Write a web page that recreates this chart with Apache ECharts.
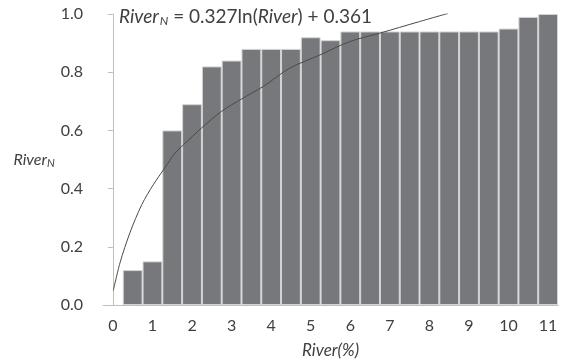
<!DOCTYPE html>
<html>
<head>
<meta charset="utf-8">
<script src="https://cdn.jsdelivr.net/npm/echarts@6/dist/echarts.min.js"></script>
<style>
    html, body {margin: 0; padding: 0; background: #fff;}
    #main {width: 568px; height: 364px;}
</style>
</head>
<body>
<div id="main"></div>
<script>
// bar positions (River %) and heights (RiverN)
const riverX = [0.5, 1.0, 1.5, 2.0, 2.5, 3.0, 3.5, 4.0, 4.5, 5.0, 5.5,
    6.0, 6.5, 7.0, 7.5, 8.0, 8.5, 9.0, 9.5, 10.0, 10.5, 11.0];
const riverN = [0.12, 0.15, 0.60, 0.69, 0.82, 0.84, 0.88, 0.88, 0.88, 0.92, 0.91,
    0.94, 0.94, 0.94, 0.94, 0.94, 0.94, 0.94, 0.94, 0.95, 0.99, 1.00];

// trend curve, points
const trendX = [0.01, 0.18, 0.43, 0.73, 1.02, 1.31, 1.57, 1.78, 2.24, 2.74, 3.29,
    3.80, 4.47, 5.23, 5.98, 6.74, 7.75, 8.47];
const trendY = [0.05, 0.145, 0.248, 0.345, 0.413, 0.471, 0.522, 0.55, 0.608, 0.665, 0.711,
    0.751, 0.814, 0.859, 0.905, 0.934, 0.974, 1.002];

const xTicks = [0, 1, 2, 3, 4, 5, 6, 7, 8, 9, 10, 11];

const textColor = '#404040';
const axisColor = '#bfbfbf';
const font = 'Lato';

const chart = echarts.init(document.getElementById('main'));

const option = {
    animation: false,
    textStyle: {fontFamily: font},
    title: {
        left: 114,
        top: 1,
        text: '{i|River}{s|N}{t| = 0.327ln(}{i|River}{t|) + 0.361}',
        textStyle: {
            fontWeight: 'normal',
            rich: {
                i: {fontFamily: font, fontStyle: 'italic', fontWeight: 'normal', fontSize: 19, color: textColor, lineHeight: 22},
                t: {fontFamily: font, fontWeight: 'normal', fontSize: 19, color: textColor, lineHeight: 22},
                s: {fontFamily: font, fontStyle: 'italic', fontWeight: 'normal', fontSize: 12, color: textColor, padding: [9, 0, 0, 1]}
            }
        }
    },
    grid: {
        left: 103,
        right: 10,
        top: 14,
        bottom: 58
    },
    xAxis: {
        type: 'value',
        min: -0.25,
        max: 11.25,
        name: '{i|River(%)}',
        nameLocation: 'middle',
        nameGap: 37,
        nameTextStyle: {
            rich: {
                i: {fontFamily: font, fontStyle: 'italic', fontSize: 17, color: textColor}
            }
        },
        axisLine: {lineStyle: {color: axisColor}},
        axisTick: {show: false},
        splitLine: {show: false},
        axisLabel: {
            customValues: xTicks,
            fontSize: 16,
            color: textColor,
            margin: 13
        }
    },
    yAxis: {
        type: 'value',
        min: 0,
        max: 1,
        interval: 0.2,
        name: '{i|River}{s|N}',
        nameLocation: 'middle',
        nameRotate: 0,
        nameGap: 47,
        nameTextStyle: {
            align: 'right',
            rich: {
                i: {fontFamily: font, fontStyle: 'italic', fontSize: 16, color: textColor},
                s: {fontFamily: font, fontStyle: 'italic', fontSize: 11, color: textColor, padding: [8, 0, 0, 0]}
            }
        },
        axisLine: {show: true, lineStyle: {color: axisColor}},
        axisTick: {show: true, length: 5, lineStyle: {color: axisColor}},
        splitLine: {show: false},
        axisLabel: {
            fontSize: 16,
            color: textColor,
            margin: 20,
            formatter: v => v.toFixed(1)
        }
    },
    series: [
        {
            type: 'bar',
            data: riverX.map((x, i) => [x, riverN[i]]),
            barWidth: 19.8,
            itemStyle: {
                color: '#77787c',
                borderColor: '#d4d4d4',
                borderWidth: 1
            },
            z: 2
        },
        {
            type: 'line',
            data: trendX.map((x, i) => [x, trendY[i]]),
            smooth: 0.3,
            symbol: 'none',
            lineStyle: {color: '#4a4a4a', width: 1},
            z: 3
        }
    ]
};

chart.setOption(option);
</script>
</body>
</html>
